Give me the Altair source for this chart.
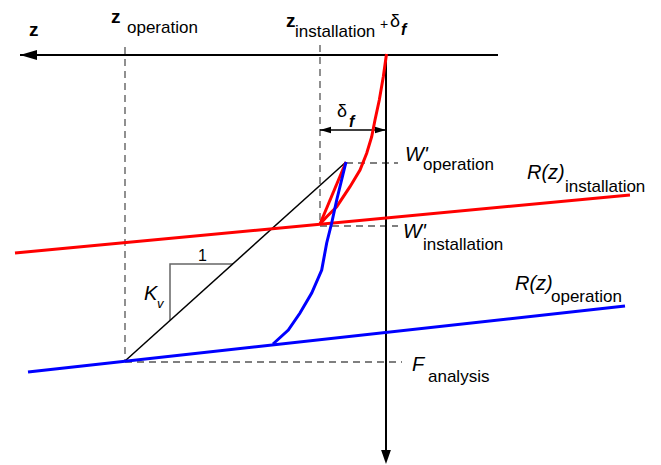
import altair as alt
import pandas as pd

# Schematic frame: horizontal = z (grows to the left), vertical = force (grows downward)
W, H = 661, 465
FONT = "Liberation Sans"

# Axis lines
axis_x = [[20, 498], [386, 386]]
axis_y = [[55, 55], [55, 456]]

# Guide lines (dashed)
guide_x = [[125, 125], [320, 320], [346, 398], [320, 398], [125, 402]]
guide_y = [[47, 362], [45, 224], [163, 163], [226, 226], [362, 362]]

# Resistance lines R(z)
r_inst_x = [15, 630]
r_inst_y = [253, 195]
r_oper_x = [28, 625]
r_oper_y = [372, 306]

# Installation response (red) and its unloading branch
red_curve_x = [386.5, 383.3, 379.3, 375, 371.7, 366.7, 360, 350, 336.7, 326.7, 320]
red_curve_y = [54, 76.7, 100, 120, 136.7, 153.3, 170, 186.7, 206.7, 216.7, 224]
red_unload_x = [320, 346]
red_unload_y = [224, 162]

# Operation response (blue)
blue_curve_x = [346, 336.7, 331.7, 326.7, 321.7, 311.7, 300, 288.3, 273]
blue_curve_y = [162, 200, 223, 243, 270, 293, 313, 330, 344]

# Stiffness line K_v and its slope triangle
kv_x = [125, 346]
kv_y = [361, 162]
tri_x = [170, 170, 233]
tri_y = [320, 264, 264]

# delta_f dimension arrow
df_x = [320, 386]
df_y = [130, 130]

xs = alt.Scale(domain=[0, W], nice=False, zero=False)
ys = alt.Scale(domain=[0, H], nice=False, zero=False, reverse=True)


def seg_df(xl, yl):
    rows = []
    for s, (xx, yy) in enumerate(zip(xl, yl)):
        for i, (a, b) in enumerate(zip(xx, yy)):
            rows.append({"x": a, "y": b, "seg": s, "o": i})
    return pd.DataFrame(rows)


def lines(xl, yl, color, width, dash=None):
    kw = dict(color=color, strokeWidth=width, strokeCap="butt")
    if dash:
        kw["strokeDash"] = dash
    return alt.Chart(seg_df(xl, yl)).mark_line(**kw).encode(
        x=alt.X("x:Q", scale=xs, axis=None),
        y=alt.Y("y:Q", scale=ys, axis=None),
        detail="seg:N",
        order="o:Q",
    )


def texts(items, size, style="normal", weight="normal", color="black"):
    df = pd.DataFrame(items, columns=["x", "y", "t"])
    return alt.Chart(df).mark_text(
        align="left", baseline="middle", font=FONT, fontSize=size,
        fontStyle=style, fontWeight=weight, color=color,
    ).encode(
        x=alt.X("x:Q", scale=xs, axis=None),
        y=alt.Y("y:Q", scale=ys, axis=None),
        text="t:N",
    )


def heads(px, py, shape, size):
    df = pd.DataFrame({"x": px, "y": py})
    return alt.Chart(df).mark_point(
        shape=shape, size=size, filled=True, color="black", opacity=1, strokeWidth=0
    ).encode(
        x=alt.X("x:Q", scale=xs, axis=None),
        y=alt.Y("y:Q", scale=ys, axis=None),
    )


LEFT = "M -1 0 L 1 -0.6 L 1 0.6 Z"
RIGHT = "M 1 0 L -1 -0.6 L -1 0.6 Z"
DOWN = "M 0 1 L -0.7 -1 L 0.7 -1 Z"

layers = [
    lines(guide_x, guide_y, "#555555", 1.3, [7, 5]),
    lines(axis_x, axis_y, "black", 2),
    lines([df_x], [df_y], "black", 1.5),
    lines([tri_x], [tri_y], "#666666", 1.5),
    lines([kv_x], [kv_y], "black", 1.5),
    lines([r_inst_x], [r_inst_y], "#ff0000", 3),
    lines([r_oper_x], [r_oper_y], "#0000ff", 3),
    lines([red_curve_x, red_unload_x], [red_curve_y, red_unload_y], "#ff0000", 3),
    lines([blue_curve_x], [blue_curve_y], "#0000ff", 3),
    heads([28.5], [55], LEFT, 289),
    heads([386], [457], DOWN, 196),
    heads([325.5], [130], LEFT, 121),
    heads([380.5], [130], RIGHT, 121),
    # symbols
    texts([(29, 30, "z"), (111, 17, "z"), (286, 21, "z")], 19, weight="bold"),
    texts([(390, 22, "δ"), (337, 112, "δ")], 18),
    texts([(401, 30, "f"), (349, 122, "f")], 16, style="italic", weight="bold"),
    texts([(380, 25, "+")], 14),
    texts([(405, 155, "W'"), (403, 232, "W'"), (527, 173, "R(z)"), (515, 284, "R(z)"),
           (144, 294, "K"), (412, 365, "F")], 20, style="italic"),
    texts([(157, 304, "v")], 13, style="italic"),
    texts([(198, 256, "1")], 16),
    # subscripts
    texts([(127, 28, "operation"), (295, 32, "installation"), (423, 165, "operation"),
           (423, 245, "installation"), (565, 187, "installation"), (551, 297, "operation"),
           (428, 377, "analysis")], 17),
]

chart = alt.layer(*layers).properties(
    width=W, height=H, padding=0, autosize=alt.AutoSizeParams(type="none"),
    background="white",
).configure_view(stroke=None)

chart.save("out.html", embed_options={"renderer": "svg", "actions": False})
